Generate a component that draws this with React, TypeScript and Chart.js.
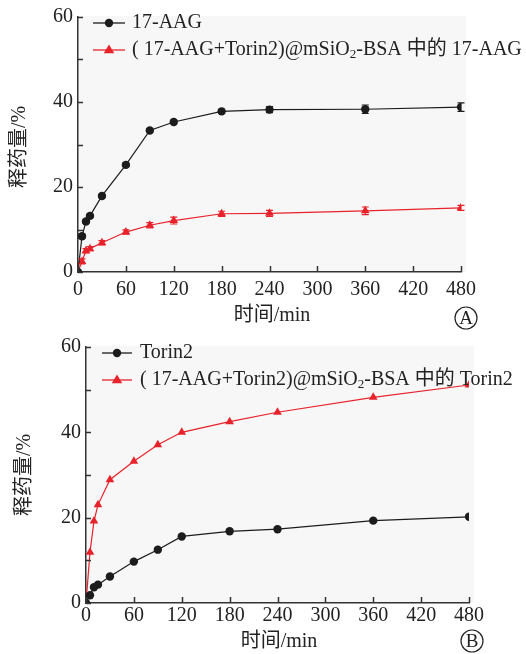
import React, { useEffect, useRef } from "react";
import { Chart, registerables } from "chart.js";

Chart.register(...registerables);

// ---------- data ----------
const times = [0, 5, 10, 15, 30, 60, 90, 120, 180, 240, 360, 480];
const xTickValues = [0, 60, 120, 180, 240, 300, 360, 420, 480];
const yTickValues = [0, 10, 20, 30, 40, 50, 60];
const yLabelValues = [0, 20, 40, 60];

const aagFree = [0, 8.4, 11.9, 13.2, 17.9, 25.2, 33.3, 35.3, 37.8, 38.2, 38.3, 38.8];
const aagFreeErr = [0, 0.5, 0.4, 0.4, 0.4, 0.4, 0.4, 0.4, 0.5, 0.7, 1.0, 1.0];
const aagNano = [0, 2.5, 5.0, 5.5, 6.9, 9.4, 11.0, 12.1, 13.7, 13.8, 14.4, 15.1];
const aagNanoErr = [0, 0.6, 0.5, 0.5, 0.5, 0.5, 0.6, 0.8, 0.6, 0.7, 0.9, 0.6];

const torinFree = [0, 1.8, 3.7, 4.3, 6.2, 9.7, 12.5, 15.6, 16.8, 17.3, 19.3, 20.2];
const torinNano = [0, 11.9, 19.2, 23.0, 28.9, 33.2, 37.1, 40.0, 42.5, 44.7, 48.2, 51.1];

const labelsA = ["17-AAG", "（17-AAG+Torin2）@mSiO₂-BSA 中的 17-AAG"];
const labelsB = ["Torin2", "（17-AAG+Torin2）@mSiO₂-BSA 中的 Torin2"];

const xTitle = "时间/min";
const yTitle = "释药量/%";

// ---------- style ----------
const W = 526;
const BLACK = "#1c1c1c";
const RED = "#e8222b";
const AXIS = "#333333";
const TEXT = "#222222";
const BG = "#f7f7f7";
const SERIF = "'Liberation Serif', 'Times New Roman', 'Noto Sans CJK SC', serif";

type Panel = {
  h: number;
  left: number; right: number; top: number; bottom: number; xPad: number;
  yTitle: [number, number]; xTitle: [number, number]; mark: [number, number, string];
  legend: { x0: number; x1: number; tx: number; rows: [number, number] };
};

const panelA: Panel = {
  h: 330,
  left: 78, right: 461, top: 16, bottom: 272, xPad: 6,
  yTitle: [20, 147], xTitle: [272, 316], mark: [466, 318, "A"],
  legend: { x0: 93, x1: 125, tx: 132, rows: [23, 50] },
};
const panelB: Panel = {
  h: 324,
  left: 86, right: 469, top: 17, bottom: 273, xPad: 1,
  yTitle: [25, 145], xTitle: [279, 312], mark: [472, 311, "B"],
  legend: { x0: 102, x1: 132, tx: 140, rows: [23, 50] },
};

function drawLabel(ctx: CanvasRenderingContext2D, text: string, x: number, y: number) {
  // full-width parentheses rendered with the Latin font (as in the original typesetting)
  const t = text.replace("（", "( ").replace("）", ")");
  const parts = t.split("₂");
  let cx = x;
  parts.forEach((p, i) => {
    ctx.font = `20px ${SERIF}`;
    ctx.fillText(p, cx, y);
    cx += ctx.measureText(p).width;
    if (i < parts.length - 1) {
      ctx.font = `13px ${SERIF}`;
      ctx.fillText("2", cx, y + 5);
      cx += ctx.measureText("2").width;
    }
  });
}

function drawMarker(ctx: CanvasRenderingContext2D, kind: string, x: number, y: number, color: string) {
  ctx.fillStyle = color;
  ctx.beginPath();
  if (kind === "circle") {
    ctx.arc(x, y, 4.2, 0, Math.PI * 2);
  } else {
    const r = 5.5;
    ctx.moveTo(x, y - r);
    ctx.lineTo(x + r * 0.95, y + r * 0.6);
    ctx.lineTo(x - r * 0.95, y + r * 0.6);
    ctx.closePath();
  }
  ctx.fill();
}

function makeConfig(panel: Panel, s1: number[], s2: number[], labels: string[], e1: number[] | null, e2: number[] | null): any {
  const decor = {
    id: "decor",
    beforeDraw(chart: any) {
      const { ctx, chartArea } = chart;
      ctx.save();
      ctx.fillStyle = BG;
      ctx.fillRect(chartArea.left, chartArea.top - 1, chartArea.right - chartArea.left + 5, chartArea.bottom - chartArea.top + 1);
      ctx.restore();
    },
    afterDatasetsDraw(chart: any) {
      const { ctx } = chart;
      const xs = chart.scales.x;
      const ys = chart.scales.y;
      ctx.save();
      chart.data.datasets.forEach((ds: any) => {
        if (!ds.errors) return;
        ctx.strokeStyle = ds.borderColor;
        ctx.lineWidth = 1.2;
        ds.data.forEach((pt: any, i: number) => {
          const e = ds.errors[i];
          if (!e) return;
          const px = xs.getPixelForValue(pt.x);
          const y1 = ys.getPixelForValue(pt.y + e);
          const y2 = ys.getPixelForValue(pt.y - e);
          ctx.beginPath();
          ctx.moveTo(px, y1); ctx.lineTo(px, y2);
          ctx.moveTo(px - 3.5, y1); ctx.lineTo(px + 3.5, y1);
          ctx.moveTo(px - 3.5, y2); ctx.lineTo(px + 3.5, y2);
          ctx.stroke();
        });
      });
      ctx.restore();
    },
    afterDraw(chart: any) {
      const { ctx, chartArea } = chart;
      const xs = chart.scales.x;
      const ys = chart.scales.y;
      ctx.save();
      // inward ticks
      ctx.strokeStyle = AXIS;
      ctx.lineWidth = 1.5;
      ctx.beginPath();
      xTickValues.forEach((v) => {
        const px = Math.round(xs.getPixelForValue(v)) + 0.5;
        ctx.moveTo(px, chartArea.bottom);
        ctx.lineTo(px, chartArea.bottom - 6);
      });
      yTickValues.forEach((v) => {
        const py = Math.round(ys.getPixelForValue(v)) + 0.5;
        ctx.moveTo(chartArea.left, py);
        ctx.lineTo(chartArea.left + 5, py);
      });
      ctx.stroke();

      // legend
      const lg = panel.legend;
      const kinds = ["circle", "triangle"];
      const colors = [BLACK, RED];
      labels.forEach((lab, i) => {
        const y = lg.rows[i];
        ctx.strokeStyle = colors[i];
        ctx.lineWidth = 1.3;
        ctx.beginPath();
        ctx.moveTo(lg.x0, y);
        ctx.lineTo(lg.x1, y);
        ctx.stroke();
        drawMarker(ctx, kinds[i], (lg.x0 + lg.x1) / 2, y, colors[i]);
        ctx.fillStyle = TEXT;
        ctx.textBaseline = "middle";
        ctx.textAlign = "left";
        drawLabel(ctx, lab, lg.tx, y);
      });

      // axis titles
      ctx.fillStyle = TEXT;
      ctx.font = `20px ${SERIF}`;
      ctx.textAlign = "center";
      ctx.textBaseline = "middle";
      ctx.fillText(xTitle, panel.xTitle[0], panel.xTitle[1]);
      ctx.save();
      ctx.translate(panel.yTitle[0], panel.yTitle[1]);
      ctx.rotate(-Math.PI / 2);
      ctx.fillText(yTitle, 0, 0);
      ctx.restore();

      // panel mark
      const [mx, my, mt] = panel.mark;
      ctx.strokeStyle = TEXT;
      ctx.lineWidth = 1.2;
      ctx.beginPath();
      ctx.arc(mx, my, 11, 0, Math.PI * 2);
      ctx.stroke();
      ctx.font = `19px ${SERIF}`;
      ctx.fillText(mt, mx, my + 1);
      ctx.restore();
    },
  };

  const toPts = (arr: number[]) => arr.map((v, i) => ({ x: times[i], y: v }));

  return {
    type: "line",
    data: {
      datasets: [
        {
          label: labels[0], data: toPts(s1), errors: e1,
          borderColor: BLACK, backgroundColor: BLACK, borderWidth: 1.2,
          pointStyle: "circle", pointRadius: 4.2, pointBorderWidth: 0, tension: 0,
        },
        {
          label: labels[1], data: toPts(s2), errors: e2,
          borderColor: RED, backgroundColor: RED, borderWidth: 1.2,
          pointStyle: "triangle", pointRadius: 5, pointBorderWidth: 0, tension: 0,
        },
      ],
    },
    options: {
      responsive: false,
      animation: false,
      devicePixelRatio: 1,
      layout: { padding: { left: 0, top: panel.top, right: W - panel.right, bottom: 0 } },
      plugins: { legend: { display: false }, tooltip: { enabled: false } },
      scales: {
        x: {
          type: "linear", min: 0, max: 480,
          afterBuildTicks: (s: any) => { s.ticks = xTickValues.map((v) => ({ value: v })); },
          afterFit: (s: any) => { s.height = panel.h - panel.bottom; },
          grid: { display: true, drawOnChartArea: false, drawTicks: false },
          border: { display: true, color: AXIS, width: 1.5 },
          ticks: { padding: panel.xPad, color: TEXT, font: { family: SERIF, size: 20 }, maxRotation: 0, autoSkip: false },
        },
        y: {
          type: "linear", min: 0, max: 60,
          afterBuildTicks: (s: any) => { s.ticks = yTickValues.map((v) => ({ value: v })); },
          afterFit: (s: any) => { s.width = panel.left; },
          grid: { display: true, drawOnChartArea: false, drawTicks: false },
          border: { display: true, color: AXIS, width: 1.5 },
          ticks: {
            padding: 5, color: TEXT, font: { family: SERIF, size: 20 }, autoSkip: false,
            callback: (v: number) => (yLabelValues.includes(v) ? String(v) : ""),
          },
        },
      },
    },
    plugins: [decor],
  };
}

function PanelChart({ cfg, h }: { cfg: () => any; h: number }) {
  const ref = useRef<HTMLCanvasElement | null>(null);
  useEffect(() => {
    if (!ref.current) return;
    const chart = new Chart(ref.current, cfg());
    return () => chart.destroy();
  }, []);
  return <canvas ref={ref} width={W} height={h} style={{ display: "block", width: W, height: h }} />;
}

export default function App() {
  return (
    <div style={{ position: "absolute", left: 0, top: 0, width: W, height: panelA.h + panelB.h, background: "#fff" }}>
      <PanelChart h={panelA.h} cfg={() => makeConfig(panelA, aagFree, aagNano, labelsA, aagFreeErr, aagNanoErr)} />
      <PanelChart h={panelB.h} cfg={() => makeConfig(panelB, torinFree, torinNano, labelsB, null, null)} />
    </div>
  );
}
